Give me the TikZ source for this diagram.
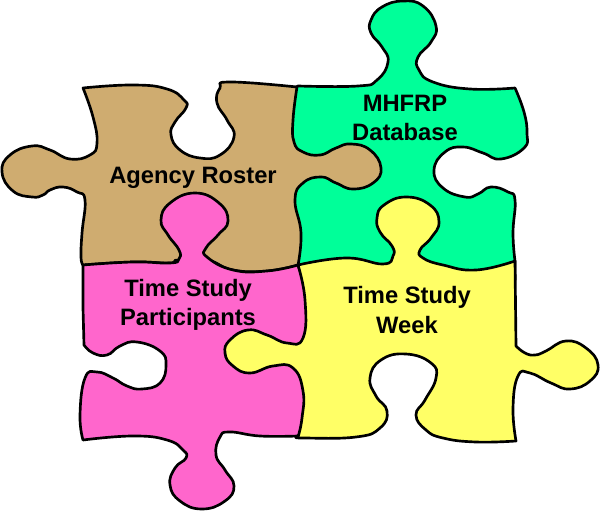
\documentclass[tikz,border=0pt]{standalone}
\usepackage{fontspec}
\setmainfont{Liberation Sans}
\definecolor{rostertan}{HTML}{CFAC70}
\definecolor{dbgreen}{HTML}{00FF99}
\definecolor{partpink}{HTML}{FF66CC}
\definecolor{weekyellow}{HTML}{FFFF66}
\tikzset{
    piece/.style={draw=black,line width=2pt,line join=round},
    curve/.style={smooth,tension=0.8},
    piecelabel/.style={align=center,font=\bfseries\fontsize{17.8}{21.8}\selectfont}
}
\begin{document}
\begin{tikzpicture}[x=0.75pt,y=-0.75pt]
    \useasboundingbox (0,0) rectangle (606,516);
    % green piece
    \draw[piece,fill=dbgreen] plot[curve] coordinates {(298,86) (358,86) (377,80) (388,62) (382,47) (371,33) (371,20) (382,7) (403,1) (423,6) (436,26) (431,42) (418,57) (419,70) (433,82) (470,89) (515,88)}
        -- plot[curve] coordinates {(515,88) (524,112) (527,133) (524,148) (501,159) (483,153) (463,147) (445,152) (434,170) (443,188) (465,197) (478,194) (491,187) (508,192) (515,200) (513,233) (515,261)}
        -- (515,280) -- (290,280) -- (290,90) -- cycle;
    % tan piece
    \draw[piece,fill=rostertan] plot[curve] coordinates {(83,88) (133,85) (167,89) (184,100) (186,108) (175,122) (171,135) (180,150) (200,158) (220,155) (234,137) (227,120) (217,103) (220,88) (230,82) (297,87)}
        -- plot[curve] coordinates {(297,87) (293,120) (294,142) (303,152) (320,155) (336,148) (351,144) (370,150) (381,168) (373,183) (353,189) (336,183) (321,177) (303,183) (295,200) (301,233) (298,265)}
        -- plot[curve] coordinates {(298,265) (267,271) (233,270) (207,260) (178,260) (170,263) (133,262) (83,265)}
        -- plot[curve] coordinates {(83,265) (81,257) (82,233) (85,200) (77,192) (63,187) (50,190) (43,195) (32,197) (13,191) (2,172) (10,155) (32,146) (50,150) (70,159) (90,155) (97,143) (93,117) (83,88)}
        -- cycle;
    % pink piece
    \draw[piece,fill=partpink] plot[curve] coordinates {(83,265) (133,262) (170,263) (179,259) (179,250) (168,235) (161,220) (170,203) (195,193) (219,203) (228,221) (218,235) (206,248) (207,257) (233,270) (267,271) (298,265)}
        -- (310,300) -- (310,420) -- (298,436)
        -- plot[curve] coordinates {(298,436) (260,436) (230,432) (220,437) (216,455) (225,470) (234,486) (225,501) (202,509) (180,501) (170,485) (175,468) (186,458) (183,450) (167,440) (133,436) (83,440)}
        -- plot[curve] coordinates {(83,440) (80,415) (85,378) (97,372) (113,378) (127,386) (142,389) (160,383) (166,365) (160,351) (137,342) (120,346) (107,355) (93,353) (84,345)}
        -- (83,308) -- cycle;
    % yellow piece
    \draw[piece,fill=weekyellow] plot[curve] coordinates {(298,265) (346,258) (383,264) (393,256) (392,246) (380,232) (377,218) (384,205) (406,197) (430,205) (439,222) (431,238) (420,250) (423,258) (443,265) (476,270) (515,261)}
        -- (516,346)
        -- plot[curve] coordinates {(516,346) (525,353) (535,355) (546,351) (566,341) (586,348) (598,365) (590,381) (570,389) (551,383) (530,373) (518,376) (513,408) (516,441)}
        -- plot[curve] coordinates {(516,441) (476,442) (443,438) (426,430) (416,415) (425,400) (436,378) (431,363) (406,354) (381,360) (370,378) (376,396) (387,411) (380,428) (356,437) (303,438) (298,437)}
        -- plot[curve] coordinates {(298,437) (302,418) (303,391) (293,368) (273,366) (250,373) (233,366) (225,353) (230,340) (248,330) (267,335) (287,343) (303,338) (305,300) (298,265)}
        -- cycle;
    \node[piecelabel] (agency) at (193,178) {Agency Roster};
    \node[piecelabel] (mhfrp) at (405,118) {MHFRP\\Database};
    \node[piecelabel] (participants) at (188,305) {Time Study\\Participants};
    \node[piecelabel] (week) at (407,310) {Time Study\\Week};
\end{tikzpicture}
\end{document}
